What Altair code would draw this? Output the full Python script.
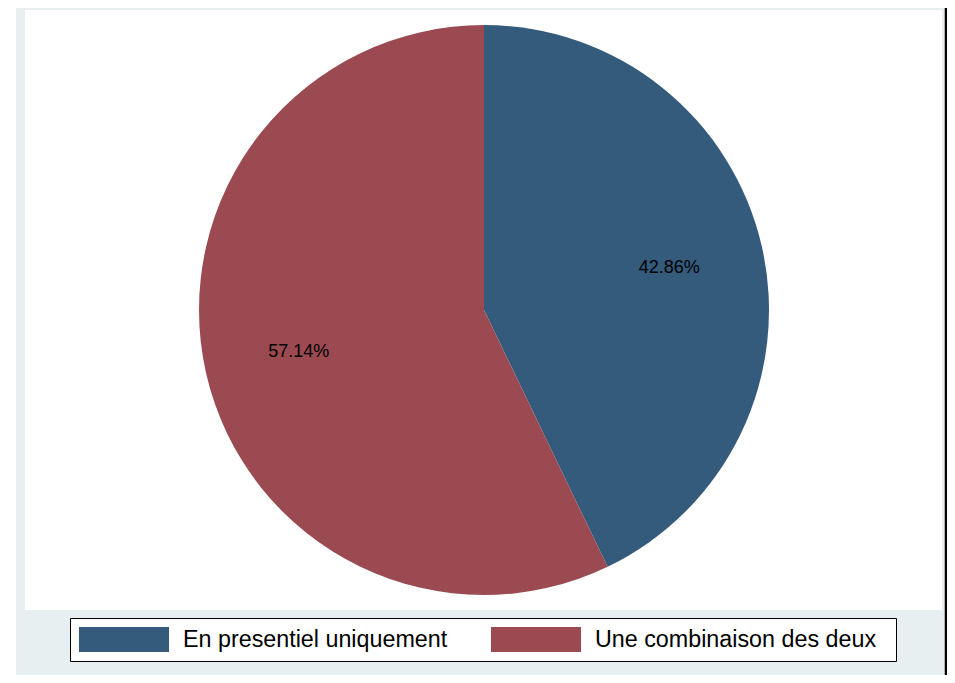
import altair as alt
import pandas as pd

# ---- data ----
categories = ["En presentiel uniquement", "Une combinaison des deux"]
shares = [42.86, 57.14]
share_labels = ["42.86%", "57.14%"]
slice_order = [0, 1]
colors = ["#345a7c", "#9a4a50"]

df = pd.DataFrame({"cat": categories, "share": shares, "label": share_labels, "ord": slice_order})
one = pd.DataFrame({"k": [0]})

W, H = 939, 667
CX, CY, R = 476, 302, 285
FONT = "Liberation Sans"

outer_bg = alt.Chart(one).mark_rect(color="#e8eff1").encode(
    x=alt.value(8), x2=alt.value(937), y=alt.value(0), y2=alt.value(H)
)
plot_region = alt.Chart(one).mark_rect(color="white").encode(
    x=alt.value(17), x2=alt.value(934), y=alt.value(2), y2=alt.value(602)
)
edge = alt.Chart(one).mark_rule(color="black", strokeWidth=2.5).encode(
    x=alt.value(938), y=alt.value(0), y2=alt.value(H)
)

legend = alt.Legend(
    title=" ",
    titleOrient="right",
    titleFontSize=1,
    titlePadding=11,
    orient="none",
    legendX=62,
    legendY=610,
    direction="horizontal",
    columns=2,
    symbolType="M-1,-0.2778H1V0.2778H-1Z",
    symbolSize=8100,
    symbolStrokeWidth=0,
    symbolOpacity=1,
    clipHeight=25,
    labelFont=FONT,
    labelFontSize=23.3,
    labelColor="black",
    labelOffset=14,
    labelLimit=600,
    columnPadding=43,
    padding=9,
    strokeColor="black",
    fillColor="white",
    cornerRadius=0,
)

pie = alt.Chart(df).mark_arc(radius=R).encode(
    theta=alt.Theta("share:Q", stack=True),
    color=alt.Color("cat:N", scale=alt.Scale(domain=categories, range=colors), legend=legend),
    order=alt.Order("ord:Q"),
    x=alt.value(CX),
    y=alt.value(CY),
)

labels = alt.Chart(df).mark_text(radius=190, font=FONT, fontSize=18, color="black").encode(
    theta=alt.Theta("share:Q", stack=True),
    order=alt.Order("ord:Q"),
    text="label:N",
    x=alt.value(CX),
    y=alt.value(CY),
)

chart = alt.layer(outer_bg, plot_region, edge, pie, labels).properties(
    width=W,
    height=H,
    autosize=alt.AutoSizeParams(type="none"),
    padding=0,
    background="white",
).configure_view(stroke=None)

chart.save("out.html", embed_options={"renderer": "svg", "actions": False})
